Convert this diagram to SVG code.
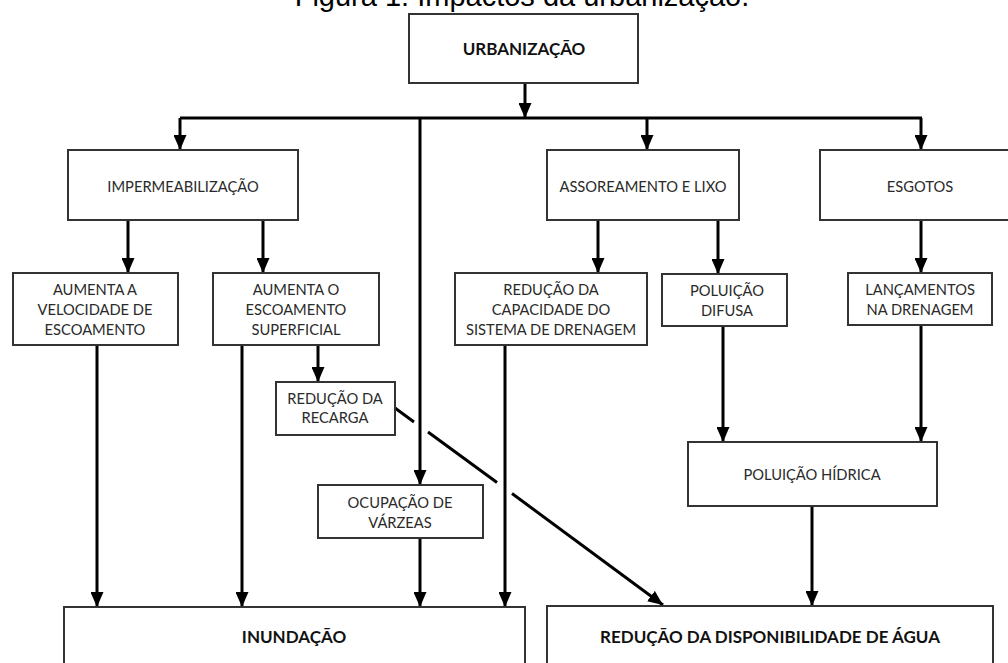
<svg xmlns="http://www.w3.org/2000/svg" width="1008" height="663" viewBox="0 0 1008 663">
<defs>
<marker id="ah" viewBox="0 0 15 13" refX="15" refY="6.5" markerWidth="15" markerHeight="13" markerUnits="userSpaceOnUse" orient="auto">
<path d="M0,0 L15,6.5 L0,13 z" fill="#000"/>
</marker>
<style>
.box{fill:#fff;stroke:#333;stroke-width:2}
.t{font-family:Lato,"Open Sans",sans-serif;font-size:14.7px;fill:#2a2a2a;text-anchor:middle}
.b{font-family:Lato,"Open Sans",sans-serif;font-size:17px;font-weight:bold;fill:#111;text-anchor:middle}
.c{fill:none;stroke:#000;stroke-width:3}
.ca{fill:none;stroke:#000;stroke-width:3;marker-end:url(#ah)}
.title{font-family:"Liberation Sans",Arial,sans-serif;font-size:29px;fill:#000;text-anchor:middle}
</style>
</defs>
<rect width="1008" height="663" fill="#fff"/>
<text class="title" x="522" y="6">Figura 1: Impactos da urbanização.</text>

<g id="connectors">
<path class="ca" d="M525,83 V118"/>
<path class="c" d="M180,118 H922"/>
<path class="ca" d="M180,118 V150"/>
<path class="ca" d="M420,118 V485"/>
<path class="ca" d="M647,118 V150"/>
<path class="ca" d="M921,118 V150"/>
<path class="ca" d="M128,220 V273"/>
<path class="ca" d="M263,220 V273"/>
<path class="ca" d="M598,220 V273"/>
<path class="ca" d="M718,220 V274"/>
<path class="ca" d="M921,220 V273"/>
<path class="ca" d="M97,345 V607"/>
<path class="ca" d="M242,345 V607"/>
<path class="ca" d="M318,345 V382"/>
<path class="ca" d="M420,538 V607"/>
<path class="ca" d="M505,345 V607"/>
<path class="ca" d="M723,326 V442"/>
<path class="ca" d="M921,325 V442"/>
<path class="ca" d="M812,506 V606"/>
<path class="c" d="M395,408 L414,422 M428,432 L497,482.5"/>
<path class="ca" d="M512,493.5 L663,605"/>
</g>

<g id="urbanizacao"><rect class="box" x="409" y="14" width="229" height="69"/><text class="b" x="524" y="55">URBANIZAÇÃO</text></g>
<g id="impermeabilizacao"><rect class="box" x="68" y="150" width="230" height="70"/><text class="t" x="183" y="192">IMPERMEABILIZAÇÃO</text></g>
<g id="assoreamento"><rect class="box" x="547" y="150" width="192" height="70"/><text class="t" x="643" y="192">ASSOREAMENTO E LIXO</text></g>
<g id="esgotos"><rect class="box" x="820" y="150" width="200" height="70"/><text class="t" x="920" y="192">ESGOTOS</text></g>
<g id="aumenta-velocidade"><rect class="box" x="13" y="273" width="165" height="72"/><text class="t" x="95" y="295">AUMENTA A</text><text class="t" x="95" y="315">VELOCIDADE DE</text><text class="t" x="95" y="335">ESCOAMENTO</text></g>
<g id="aumenta-escoamento"><rect class="box" x="213" y="273" width="166" height="72"/><text class="t" x="296" y="295">AUMENTA O</text><text class="t" x="296" y="315">ESCOAMENTO</text><text class="t" x="296" y="335">SUPERFICIAL</text></g>
<g id="reducao-capacidade"><rect class="box" x="455" y="273" width="192" height="72"/><text class="t" x="551" y="295">REDUÇÃO DA</text><text class="t" x="551" y="315">CAPACIDADE DO</text><text class="t" x="551" y="335">SISTEMA DE DRENAGEM</text></g>
<g id="poluicao-difusa"><rect class="box" x="662" y="274" width="125" height="52"/><text class="t" x="727" y="296">POLUIÇÃO</text><text class="t" x="727" y="316">DIFUSA</text></g>
<g id="lancamentos"><rect class="box" x="848" y="273" width="144" height="52"/><text class="t" x="920" y="295">LANÇAMENTOS</text><text class="t" x="920" y="315">NA DRENAGEM</text></g>
<g id="reducao-recarga"><rect class="box" x="276" y="382" width="119" height="53"/><text class="t" x="335" y="404">REDUÇÃO DA</text><text class="t" x="335" y="423">RECARGA</text></g>
<g id="ocupacao"><rect class="box" x="318" y="485" width="165" height="53"/><text class="t" x="400" y="508">OCUPAÇÃO DE</text><text class="t" x="400" y="528">VÁRZEAS</text></g>
<g id="poluicao-hidrica"><rect class="box" x="688" y="442" width="249" height="64"/><text class="t" x="812" y="480">POLUIÇÃO HÍDRICA</text></g>
<g id="inundacao"><rect class="box" x="64" y="607" width="461" height="70"/><text class="b" x="294" y="643">INUNDAÇÃO</text></g>
<g id="reducao-disponibilidade"><rect class="box" x="547" y="606" width="446" height="70"/><text class="b" x="770" y="643">REDUÇÃO DA DISPONIBILIDADE DE ÁGUA</text></g>
</svg>
